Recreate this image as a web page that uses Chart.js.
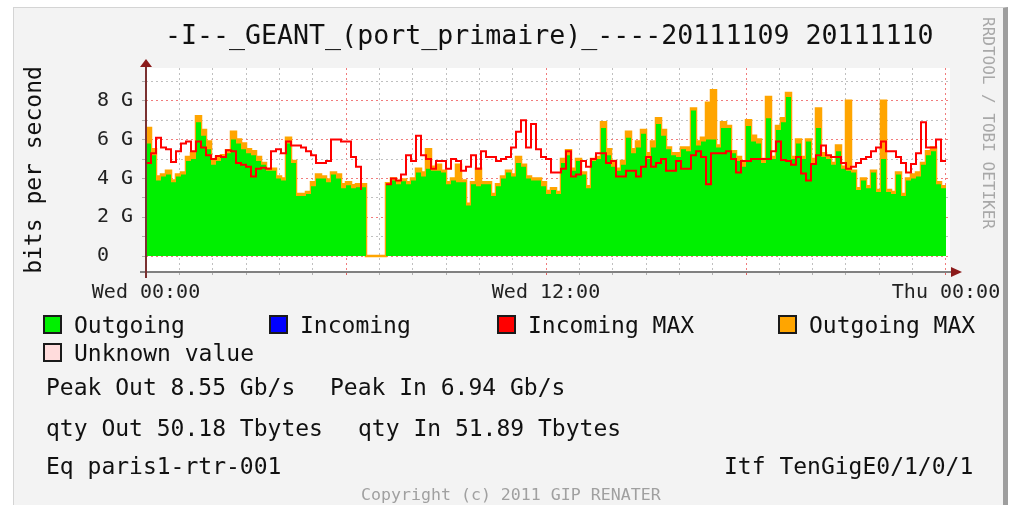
<!DOCTYPE html>
<html>
<head>
<meta charset="utf-8">
<script src="https://cdn.jsdelivr.net/npm/chart.js@4/dist/chart.umd.min.js"></script>
<style>
  body { margin: 0; background: #fff; width: 1009px; height: 505px; overflow: hidden; position: relative; font-family: 'DejaVu Sans Mono', monospace; }
  #frame { position: absolute; left: 13px; top: 7px; width: 989px; height: 520px; background: #f3f3f3; border-left: 1px solid #d4d4d4; border-top: 1px solid #d4d4d4; border-right: 5px solid #9e9e9e; }
  #rrd { position: absolute; left: 0; top: 0; }
  .t { position: absolute; white-space: pre; color: #111; font-size: 23px; line-height: 23px; }
  .sq { position: absolute; width: 19px; height: 19px; box-sizing: border-box; border: 2px solid #1a1a1a; }
</style>
</head>
<body>
<div id="frame"></div>
<canvas id="rrd" width="1009" height="505"></canvas>
<div class="t" style="left:165px; top:21px; font-size:26.6px; line-height:27px;">-I--_GEANT_(port_primaire)_----20111109 20111110</div>
<div class="t" style="left:980px; top:17px; font-size:16px; line-height:16px; writing-mode:vertical-rl; color:#a8a8a8;">RRDTOOL / TOBI OETIKER</div>
<div id="legend"></div>
<div class="t" style="left:46px; top:376px;">Peak Out 8.55 Gb/s</div>
<div class="t" style="left:330px; top:376px;">Peak In 6.94 Gb/s</div>
<div class="t" style="left:46px; top:417px;">qty Out 50.18 Tbytes</div>
<div class="t" style="left:358px; top:417px;">qty In 51.89 Tbytes</div>
<div class="t" style="left:46px; top:455px;">Eq paris1-rtr-001</div>
<div class="t" style="left:724px; top:455px;">Itf TenGigE0/1/0/1</div>
<div class="t" style="left:361px; top:486px; font-size:16.6px; line-height:17px; color:#a0a0a0;">Copyright (c) 2011 GIP RENATER</div>
<script>
// samples every 0.15 h (9 min), Wed 00:00 -> Thu 00:00, values in Gbit/s
const stepHours = 0.15;

const outgoing = [
  5.8, 5.2, 3.9, 4.1, 4.2, 3.8, 4.1, 4.2, 4.9, 5.0,
  6.9, 6.2, 5.5, 4.7, 4.9, 5.1, 5.3, 6.0, 5.8, 5.5,
  5.3, 5.2, 4.9, 4.7, 4.4, 4.4, 4.0, 3.9, 5.8, 4.8,
  3.1, 3.1, 3.2, 3.6, 4.0, 4.0, 3.8, 4.2, 4.0, 3.5,
  3.65, 3.5, 3.55, 3.55, 0, 0, 0, 0, 3.7, 3.9,
  3.7, 3.85, 3.7, 3.9, 4.3, 4.1, 4.5, 4.4, 4.4, 4.3,
  3.7, 3.9, 3.8, 3.8, 2.6, 3.7, 3.6, 3.7, 3.7, 3.1,
  3.6, 4.0, 4.3, 4.1, 4.8, 4.6, 4.0, 3.9, 3.9, 3.6,
  3.2, 3.4, 3.2, 4.8, 5.2, 4.4, 4.9, 4.2, 3.5, 4.9,
  5.0, 6.6, 5.2, 4.6, 4.4, 4.7, 6.1, 5.3, 5.6, 6.3,
  5.0, 5.6, 6.8, 6.2, 5.5, 5.2, 5.1, 5.5, 5.4, 7.5,
  5.7, 5.9, 6.0, 6.0, 5.6, 6.6, 6.6, 5.3, 4.9, 4.6,
  6.7, 5.9, 5.8, 4.8, 7.1, 5.0, 6.5, 6.9, 8.2, 5.0,
  5.8, 5.0, 5.9, 4.8, 6.6, 5.1, 5.0, 4.7, 5.4, 4.5,
  4.4, 4.3, 3.4, 3.9, 3.5, 4.3, 3.3, 5.0, 3.3, 3.2,
  4.2, 3.1, 3.9, 4.0, 4.1, 4.7, 5.2, 5.4, 3.7, 3.5
];

const outgoingMax = [
  6.6, 5.5, 4.1, 4.2, 4.4, 3.9, 4.2, 4.3, 5.1, 5.3,
  7.2, 6.5, 5.9, 4.9, 5.1, 5.2, 5.45, 6.4, 6.0, 5.8,
  5.5, 5.4, 5.1, 4.8, 4.5, 4.5, 4.1, 4.0, 6.1, 4.9,
  3.2, 3.2, 3.3, 3.8, 4.2, 4.1, 3.95, 4.3, 4.2, 3.7,
  3.8, 3.65, 3.7, 3.7, 0, 0, 0, 0, 3.75, 4.0,
  3.8, 3.95, 3.8, 4.0, 4.5, 4.3, 5.5, 4.6, 4.7, 4.4,
  3.8, 4.0, 4.7, 3.9, 2.7, 3.8, 4.5, 3.8, 3.8, 3.2,
  3.7, 4.1, 4.4, 4.2, 5.1, 4.7, 4.1, 4.0, 4.0, 3.8,
  3.35, 3.5, 3.3, 5.0, 5.45, 4.5, 5.0, 4.3, 3.6, 5.0,
  5.1, 6.9, 5.5, 4.9, 4.5, 4.9, 6.4, 5.5, 5.9, 6.5,
  5.3, 5.9, 7.1, 6.5, 5.6, 5.3, 5.3, 5.6, 5.6, 7.6,
  5.9, 6.1, 7.9, 8.55, 5.7, 6.9, 6.7, 5.4, 5.1, 4.8,
  7.0, 6.2, 6.0, 5.0, 8.2, 5.1, 6.7, 7.1, 8.4, 5.1,
  6.0, 5.1, 6.0, 5.0, 7.6, 5.3, 5.1, 4.8, 5.7, 4.6,
  8.0, 4.4, 3.5, 4.0, 3.6, 4.4, 3.4, 8.0, 3.4, 3.3,
  4.3, 3.2, 4.0, 4.2, 4.3, 4.8, 5.4, 5.6, 3.8, 3.6
];

const incomingMax = [
  4.8, 5.3, 6.1, 5.6, 5.5, 4.85, 5.4, 5.8, 5.9, 5.4,
  5.9, 5.6, 5.2, 5.0, 5.15, 5.1, 5.45, 5.4, 4.8, 4.7,
  4.6, 4.1, 4.5, 4.55, 4.5, 5.4, 5.5, 5.3, 5.9, 5.7,
  5.7, 5.6, 5.4, 5.2, 4.8, 4.8, 4.9, 6.0, 6.0, 5.9,
  5.9, 5.1, 4.6, 3.4, null, null, null, null, 3.7, 4.0,
  3.9, 4.2, 5.2, 4.9, 6.2, 5.2, 5.0, 4.5, 4.9, 4.9,
  4.5, 5.0, 4.9, 4.4, 4.6, 5.2, 4.5, 5.4, 5.1, 5.1,
  4.9, 5.0, 5.1, 5.6, 6.4, 7.0, 5.6, 6.8, 5.5, 5.1,
  5.0, 4.3, 4.3, 4.5, 5.4, 4.1, 4.2, 4.9, 4.6, 5.0,
  5.3, 5.3, 4.8, 4.9, 4.1, 4.1, 4.4, 4.4, 4.1, 4.6,
  5.1, 4.6, 4.8, 5.0, 4.4, 4.4, 4.9, 4.5, 4.5, 5.2,
  5.4, 5.1, 3.7, 5.3, 5.3, 5.3, 5.4, 5.0, 4.3, 4.9,
  4.9, 5.0, 5.0, 5.0, 5.0, 5.4, 5.9, 4.95, 4.9, 4.7,
  5.1, 4.25, 3.9, 4.75, 5.2, 5.7, 5.2, 5.1, 5.1, 4.8,
  4.5, 4.6, 4.8, 5.0, 5.1, 5.4, 5.6, 5.9, 5.4, 5.4,
  5.1, 4.8, 4.3, 4.75, 5.3, 6.9, 5.6, 5.6, 6.0, 4.9
];

const xTickHours = [0, 12, 24];
const xTickLabels = ['Wed 00:00', 'Wed 12:00', 'Thu 00:00'];
const yTickValues = [0, 2, 4, 6, 8];
const yTickLabels = ['0  ', '2 G', '4 G', '6 G', '8 G'];

const legendNames = ['Outgoing', 'Incoming', 'Incoming MAX', 'Outgoing MAX', 'Unknown value'];
const legendColors = ['#00f000', '#0000ff', '#ff0000', '#ffa500', '#ffdcdc'];

// legend (rrdtool style, drawn as text)
const legendPos = [[43, 315], [269, 315], [497, 315], [778, 315], [43, 343]];
const legend = document.getElementById('legend');
legendNames.forEach((name, i) => {
    const [lx, ly] = legendPos[i];
    legend.insertAdjacentHTML('beforeend',
        `<div class="sq" style="left:${lx}px; top:${ly}px; background:${legendColors[i]}"></div>` +
        `<div class="t" style="left:${lx + 31}px; top:${ly - 1.5}px;">${name}</div>`);
});

function toPoints(arr) {
    const pts = arr.map((v, i) => ({ x: i * stepHours, y: v }));
    // close the last step at the end of the day
    pts.push({ x: arr.length * stepHours, y: arr[arr.length - 1] });
    return pts;
}

const plotDecor = {
    id: 'plotDecor',
    beforeDraw(chart) {
        const { ctx, chartArea: a } = chart;
        ctx.save();
        ctx.fillStyle = '#ffffff';
        ctx.fillRect(a.left, a.top, a.right - a.left, a.bottom - a.top);
        ctx.restore();
    },
    afterDraw(chart) {
        const { ctx, chartArea: a } = chart;
        ctx.save();
        // x axis
        ctx.strokeStyle = '#808080';
        ctx.lineWidth = 2;
        ctx.beginPath();
        ctx.moveTo(a.left - 6, a.bottom);
        ctx.lineTo(a.right + 3, a.bottom);
        ctx.stroke();
        ctx.fillStyle = '#8b1a1a';
        ctx.beginPath();
        ctx.moveTo(a.right + 1, a.bottom - 5);
        ctx.lineTo(a.right + 12, a.bottom);
        ctx.lineTo(a.right + 1, a.bottom + 5);
        ctx.fill();
        // y axis
        ctx.strokeStyle = '#7a3030';
        ctx.beginPath();
        ctx.moveTo(a.left, a.bottom + 6);
        ctx.lineTo(a.left, a.top - 2);
        ctx.stroke();
        ctx.beginPath();
        ctx.moveTo(a.left - 6, a.top - 1);
        ctx.lineTo(a.left, a.top - 9);
        ctx.lineTo(a.left + 6, a.top - 1);
        ctx.fill();
        ctx.restore();
    }
};

Chart.defaults.font.family = "'DejaVu Sans Mono', monospace";

const ctx = document.getElementById('rrd').getContext('2d');
const chart = new Chart(ctx, {
    type: 'line',
    data: {
        datasets: [
            {
                label: 'Incoming MAX',
                data: toPoints(incomingMax),
                borderColor: '#ff0000',
                borderWidth: 2,
                stepped: true,
                fill: false,
                pointRadius: 0
            },
            {
                label: 'Outgoing',
                data: toPoints(outgoing),
                backgroundColor: '#00f000',
                borderWidth: 0,
                stepped: true,
                fill: 'origin',
                pointRadius: 0
            },
            {
                label: 'Outgoing MAX',
                data: toPoints(outgoingMax),
                borderColor: '#ffa500',
                backgroundColor: '#ffa500',
                borderWidth: 2.5,
                stepped: true,
                fill: 'origin',
                pointRadius: 0
            }
        ]
    },
    options: {
        responsive: false,
        animation: false,
        events: [],
        layout: { padding: { top: 68, right: 59, left: 0, bottom: 0 } },
        plugins: { legend: { display: false }, tooltip: { enabled: false } },
        scales: {
            x: {
                type: 'linear',
                min: 0,
                max: 24.12,
                afterFit: (s) => { s.height = 233; },
                afterBuildTicks: (axis) => {
                    const t = [];
                    for (let h = 0; h <= 24; h++) t.push({ value: h });
                    axis.ticks = t;
                },
                grid: {
                    color: (c) => c.tick.value % 6 === 0 ? 'rgba(240,110,110,0.9)' : 'rgba(185,185,185,0.9)',
                    lineWidth: 1,
                    drawTicks: true,
                    tickLength: 3,
                    tickColor: (c) => c.tick.value % 6 === 0 ? '#e06060' : '#b0b0b0'
                },
                border: { display: false, dash: [2, 3] },
                ticks: {
                    autoSkip: false,
                    maxRotation: 0,
                    padding: 6,
                    color: '#222',
                    font: { size: 20 },
                    callback: (v) => {
                        const k = xTickHours.indexOf(v);
                        return k >= 0 ? xTickLabels[k] : '';
                    }
                }
            },
            y: {
                min: -0.82,
                max: 9.69,
                afterFit: (s) => { s.width = 146; },
                afterBuildTicks: (axis) => {
                    const t = [];
                    for (let g = 0; g <= 9; g++) t.push({ value: g });
                    axis.ticks = t;
                },
                grid: {
                    color: (c) => c.tick.value % 2 === 0 ? 'rgba(240,110,110,0.9)' : 'rgba(185,185,185,0.9)',
                    lineWidth: 1,
                    drawTicks: true,
                    tickLength: 4,
                    tickColor: '#b0b0b0'
                },
                border: { display: false, dash: [2, 3] },
                ticks: {
                    autoSkip: false,
                    padding: 9,
                    color: '#222',
                    font: { size: 20 },
                    callback: (v) => {
                        const k = yTickValues.indexOf(v);
                        return k >= 0 ? yTickLabels[k] : '';
                    }
                },
                title: {
                    display: true,
                    text: 'bits per second',
                    color: '#111',
                    font: { size: 23 },
                    padding: { top: 21, bottom: 0 }
                }
            }
        }
    },
    plugins: [plotDecor]
});
</script>
</body>
</html>
